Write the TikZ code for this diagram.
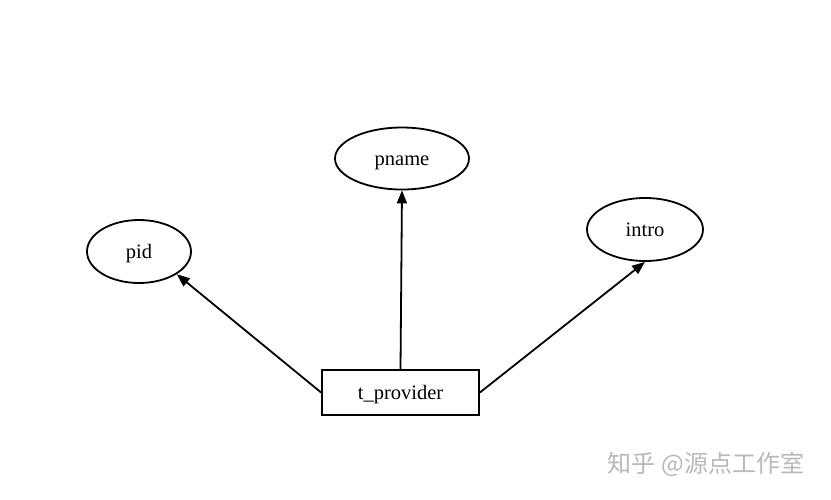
\documentclass[tikz,border=0pt]{standalone}
\usepackage{fontspec}
\setmainfont{Liberation Serif}
\newfontfamily\cjk{Noto Sans CJK SC}
\usetikzlibrary{arrows.meta,shapes.geometric}
\begin{document}
\begin{tikzpicture}[x=1pt,y=-1pt,
  lbl/.style={font=\fontsize{20.5}{24}\selectfont, text height=14pt, text depth=0pt},
  attr/.style={draw, line width=1.8pt, ellipse, inner sep=0pt, lbl},
  ent/.style={draw, line width=1.8pt, rectangle, inner sep=0pt, lbl},
  conn/.style={line width=1.8pt, -{Triangle[length=13pt,width=10pt]}}]
\useasboundingbox (0,0) rectangle (831,499);
\node[attr, minimum width=104pt, minimum height=63pt] (pid) at (139,251.5) {pid};
\node[attr, minimum width=134pt, minimum height=62pt] (pname) at (402,158.5) {pname};
\node[attr, minimum width=116pt, minimum height=63pt] (intro) at (645,229.5) {intro};
\node[ent, minimum width=157pt, minimum height=45pt] (tp) at (400.5,392.5) {t\_provider};
\draw[conn] (tp.west) -- (pid.-31);
\draw[conn] (tp.north) -- (pname.south);
\draw[conn] (tp.east) -- (intro.south);
\node[font=\cjk\fontsize{24}{28}\selectfont, text=black!28] (wm) at (706,464) {知乎 @源点工作室};
\end{tikzpicture}
\end{document}
